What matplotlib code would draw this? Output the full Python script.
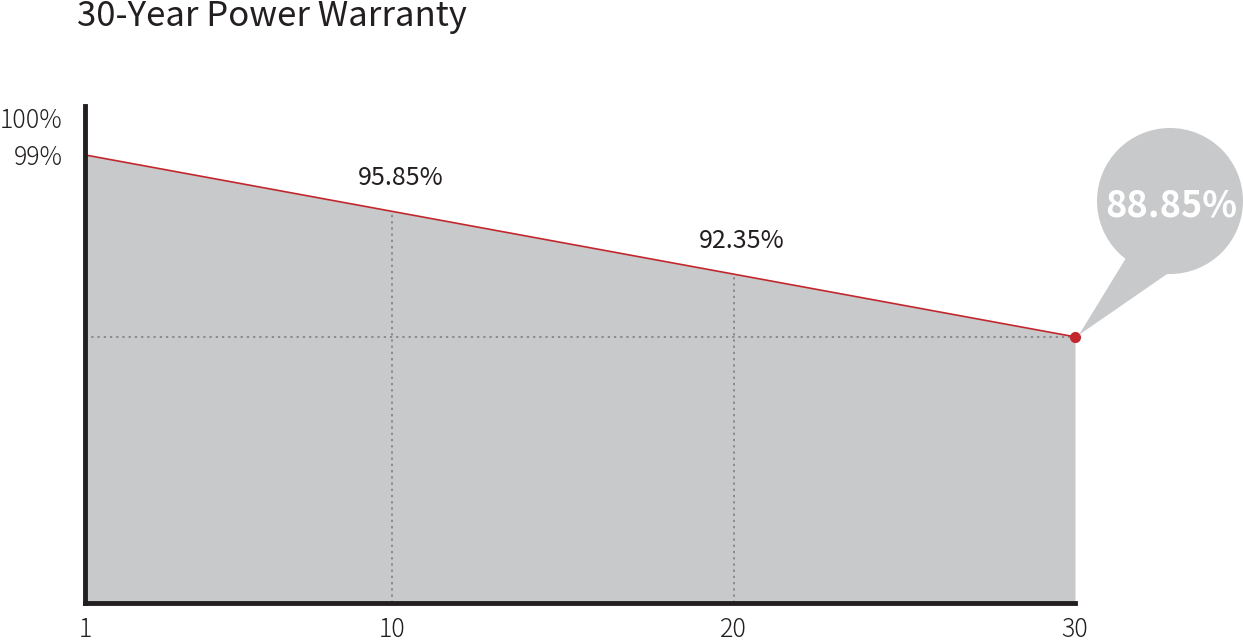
import numpy as np
import matplotlib.pyplot as plt
from matplotlib.patches import Circle, Polygon
from matplotlib.transforms import IdentityTransform

plt.rcParams['font.family'] = ['Noto Sans CJK JP', 'DejaVu Sans']

# data
years = [1, 10, 20, 30]
power = [99.0, 95.85, 92.35, 88.85]
marked_years = [10, 20]
marked_labels = ['95.85%', '92.35%']
end_label = '88.85%'
x_ticks = [1, 10, 20, 30]
x_tick_labels = ['1', '10', '20', '30']
y_tick_labels = ['99%', '100%']

fill_color = '#c8c9ca'
red = '#c1272d'
ink = '#231f20'

W, H = 1243, 642
fig = plt.figure(figsize=(W / 100, H / 100), dpi=100)
ax = fig.add_axes([85 / W, 1 - 603 / H, (1075 - 85) / W, (603 - 106) / H])

ymin, ymax = 74.0, 101.73
ax.set_xlim(1, 30)
ax.set_ylim(ymin, ymax)

ax.fill_between(years, power, ymin, color=fill_color, lw=0, zorder=1)
ax.plot(years, power, color=red, lw=1.2, zorder=4)

# dotted guides
for yr, val in zip(marked_years, power[1:3]):
    ax.plot([yr, yr], [ymin, val], color='#8c8c8c', lw=1.4, ls=(0, (1.2, 2)), zorder=2)
ax.plot([1, 30], [power[-1], power[-1]], color='#8c8c8c', lw=1.4, ls=(0, (1.2, 2)), zorder=2)

for yr, val, lab in zip(marked_years, power[1:3], marked_labels):
    ax.annotate(lab, (yr, val), xytext=(6, 24), textcoords='offset points',
                ha='center', va='center', fontsize=18, color=ink)

ax.plot([years[-1]], [power[-1]], 'o', color=red, ms=7, clip_on=False, zorder=6)

# spines and ticks
for s in ['top', 'right']:
    ax.spines[s].set_visible(False)
for s in ['left', 'bottom']:
    ax.spines[s].set_linewidth(3.5)
    ax.spines[s].set_color(ink)
    ax.spines[s].set_zorder(5)

ax.set_xticks(x_ticks)
ax.set_xticklabels(x_tick_labels)
ax.set_yticks([power[0], 101.06])
ax.set_yticklabels(y_tick_labels)
ax.tick_params(axis='both', length=0, labelsize=18, colors=ink)
ax.tick_params(axis='x', pad=10)
ax.tick_params(axis='y', pad=16)
for t in ax.get_xticklabels() + ax.get_yticklabels():
    t.set_fontweight('light')

# speech bubble for the end value
fig.canvas.draw()
tip = ax.transData.transform((years[-1], power[-1]))
cx, cy, r = 1170, H - 201, 73
bubble = Circle((cx, cy), r, transform=IdentityTransform(), color=fill_color, lw=0)
tail = Polygon([(tip[0] + 4, tip[1] + 2), (1126, H - 258), (1170, H - 272)],
               closed=True, transform=IdentityTransform(), color=fill_color, lw=0)
fig.patches.extend([tail, bubble])
fig.text((cx + 1) / W, (cy - 5) / H, end_label, ha='center', va='center',
         fontsize=26, fontweight='bold', color='white')

fig.text(77 / W, 1 - 17 / H, '30-Year Power Warranty', ha='left', va='center',
         fontsize=25, color=ink)

fig.savefig('out.png', dpi=100)
